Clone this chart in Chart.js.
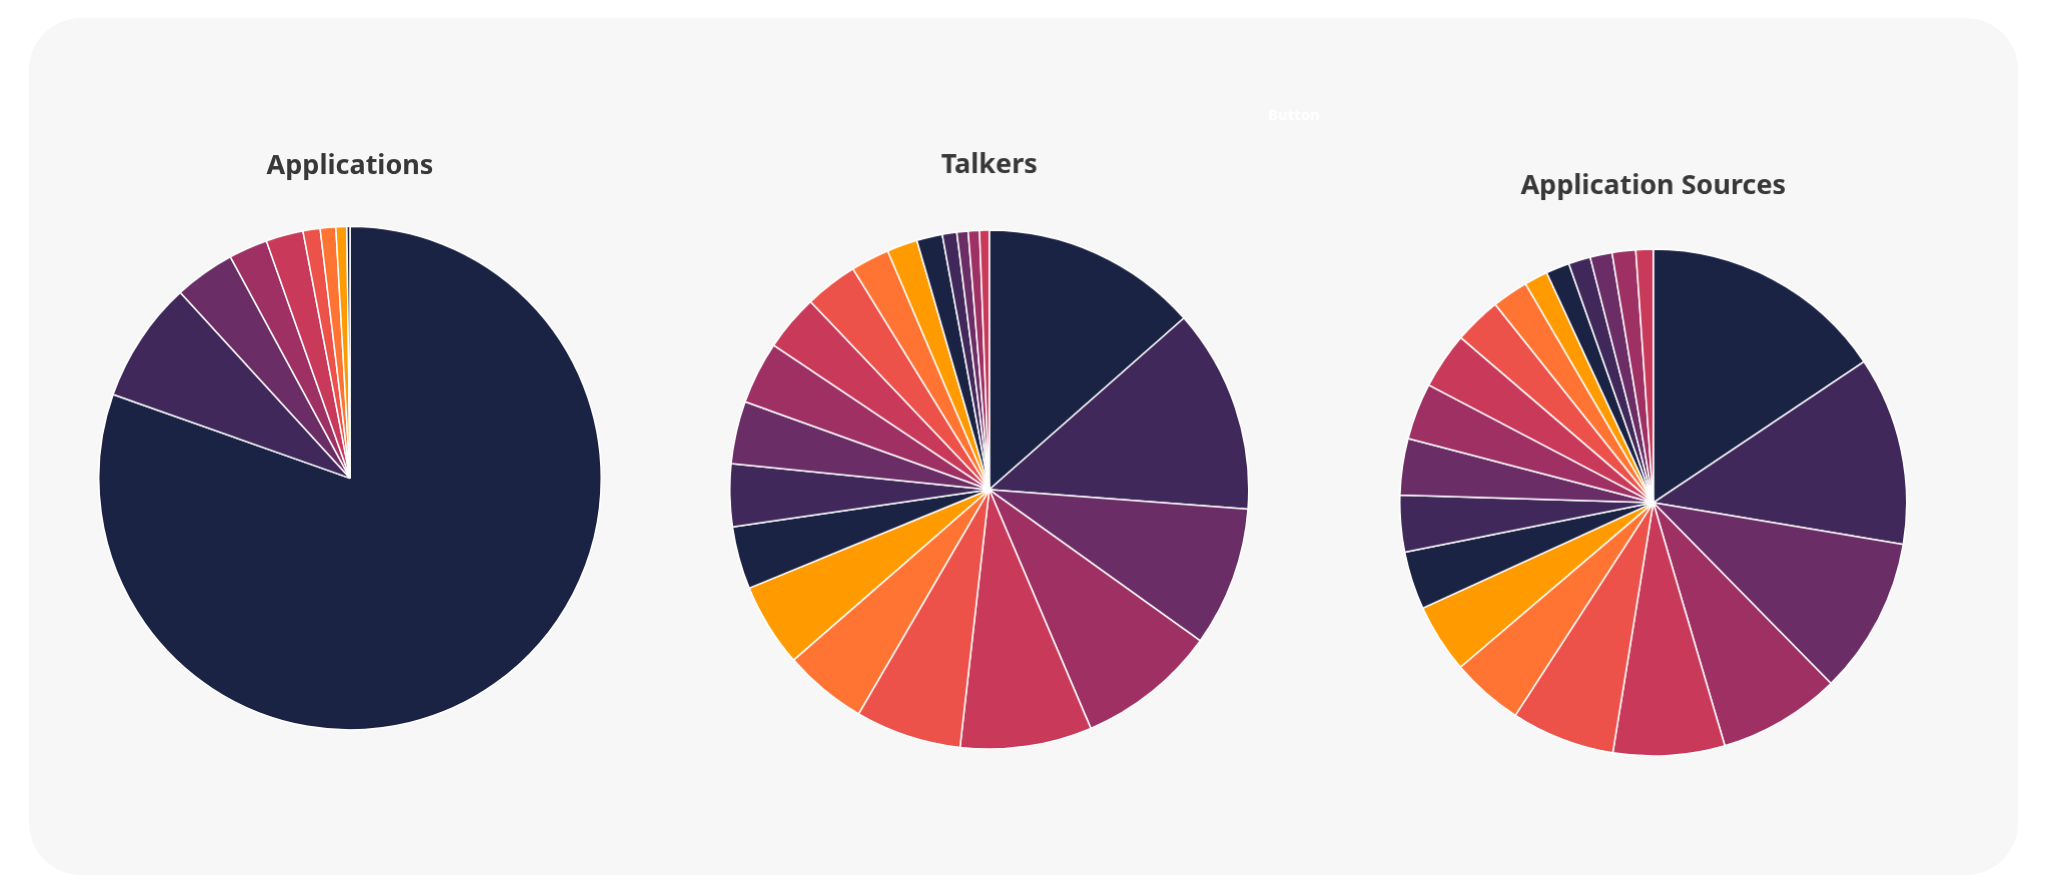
<!DOCTYPE html>
<html>
<head>
<meta charset="utf-8">
<script src="https://cdn.jsdelivr.net/npm/chart.js@4.4.1/dist/chart.umd.min.js"></script>
<style>
  body { margin: 0; background: #ffffff; width: 2048px; height: 890px; overflow: hidden; font-family: "Noto Sans", sans-serif; }
  .card { position: absolute; left: 29px; top: 18px; width: 1989px; height: 857px; background: #f7f7f7; border-radius: 52px; }
  .box { position: absolute; }
  .btn { position: absolute; left: 1268px; top: 104px; color: #ffffff; font: bold 15px "Noto Sans", sans-serif; }
</style>
</head>
<body>
<div class="card"></div>
<div class="btn">Button</div>
<div class="box" style="left:98px;top:146.4px;width:504px;height:583.6px"><canvas id="apps"></canvas></div>
<div class="box" style="left:729.25px;top:145px;width:519.5px;height:603.75px"><canvas id="talkers"></canvas></div>
<div class="box" style="left:1399.25px;top:165.9px;width:507.5px;height:589.85px"><canvas id="sources"></canvas></div>
<script>
// colour cycle used by all three pies
var palette = ['#1b2345', '#40295a', '#6b2d66', '#9e3064', '#c93a5a', '#ec5249', '#ff7433', '#ff9b00'];

// Applications
var appLabels = ['App 1','App 2','App 3','App 4','App 5','App 6','App 7','App 8','App 9'];
var appValues = [804, 78, 39, 25, 24, 11, 10, 7, 2];

// Talkers
var talkerLabels = ['Talker 1','Talker 2','Talker 3','Talker 4','Talker 5','Talker 6','Talker 7',
  'Talker 8','Talker 9','Talker 10','Talker 11','Talker 12','Talker 13','Talker 14','Talker 15',
  'Talker 16','Talker 17','Talker 18','Talker 19','Talker 20','Talker 21'];
var talkerValues = [135, 127, 87, 87, 82, 66, 52, 52, 39, 39, 39, 39, 35, 33, 24, 19, 16, 9, 7, 7, 6];

// Application Sources
var sourceLabels = ['Source 1','Source 2','Source 3','Source 4','Source 5','Source 6','Source 7',
  'Source 8','Source 9','Source 10','Source 11','Source 12','Source 13','Source 14','Source 15',
  'Source 16','Source 17','Source 18','Source 19','Source 20','Source 21'];
var sourceValues = [156, 120, 100, 78, 71, 66, 46, 44, 37, 36, 36, 36, 36, 30, 23, 15, 15, 14, 14, 15, 11];

function colours(n) {
  var out = [];
  for (var i = 0; i < n; i++) out.push(palette[i % palette.length]);
  return out;
}

function makePie(id, title, labels, values, padBottom) {
  var ctx = document.getElementById(id).getContext('2d');
  return new Chart(ctx, {
    type: 'pie',
    data: {
      labels: labels,
      datasets: [{
        data: values,
        backgroundColor: colours(values.length),
        borderColor: '#ffffff',
        borderWidth: 1.5,
        hoverOffset: 0
      }]
    },
    options: {
      responsive: true,
      maintainAspectRatio: false,
      animation: false,
      layout: { padding: 0 },
      plugins: {
        legend: { display: false },
        tooltip: { enabled: false },
        title: {
          display: true,
          text: title,
          color: '#383838',
          font: { family: 'Noto Sans', size: 27, weight: 'bold', lineHeight: 1.2 },
          padding: { top: 4, bottom: padBottom }
        }
      }
    }
  });
}

makePie('apps', 'Applications', appLabels, appValues, 43.2);
makePie('talkers', 'Talkers', talkerLabels, talkerValues, 47.85);
makePie('sources', 'Application Sources', sourceLabels, sourceValues, 45.95);
</script>
</body>
</html>
